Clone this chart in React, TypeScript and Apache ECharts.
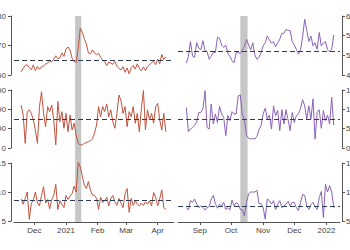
import { useEffect, useRef } from "react";
import * as echarts from "echarts";

const DAY = 86400000;
const stepDays = 2;
const leftStart = "2020-11-18";
const rightStart = "2021-08-19";
const leftRange = ["2020-11-11", "2021-04-17"];
const rightRange = ["2021-08-11", "2022-01-14"];
const leftEvent = ["2021-01-10", "2021-01-16"];
const rightEvent = ["2021-10-10", "2021-10-17"];

const leftTop = [61.1, 62.3, 63.2, 63.5, 62.5, 61.8, 63.4, 61.5, 62.9, 61.9, 62.8, 63.1, 63.7, 64, 64.8, 64.4, 65.4, 66.5, 65.5, 65.8, 67.5, 66.3, 68.8, 69.5, 68.5, 65.7, 64.6, 64.3, 69, 75.8, 74.5, 72.3, 70.5, 67.5, 67.2, 68.5, 67.5, 66.8, 67.4, 66, 65, 64.5, 63.2, 64.4, 64, 63.6, 64.6, 63, 62.2, 61.7, 62.8, 60.9, 62.4, 60.4, 62.5, 63.2, 62, 63.8, 62.3, 61.4, 62.7, 61.5, 62.9, 63.4, 64.2, 64.6, 63.5, 65.4, 63.8, 67, 65.2, 66.2];
const leftMid = [222, 171, 24, 188, 197, 179, 145, 93, 24, 214, 291, 179, 110, 214, 188, 222, 145, 16, 240, 136, 188, 102, 179, 84, 171, 93, 128, 67, 24, 16, 16, 24, 28, 33, 38, 47, 76, 119, 214, 162, 214, 188, 228, 162, 197, 136, 102, 179, 274, 245, 179, 214, 110, 188, 162, 214, 128, 179, 84, 205, 297, 93, 197, 145, 179, 128, 214, 231, 145, 93, 179, 84];
const leftBot = [8.8, 7.9, 8.9, 10, 5.3, 8, 8.7, 10, 8.1, 7.6, 9.4, 10.9, 8.1, 8.7, 7.1, 8.7, 9.4, 11.3, 7, 8.5, 7.9, 7.3, 9.4, 8.7, 9.3, 9.7, 11, 10, 15.2, 14.3, 12.8, 11.2, 10.6, 11.8, 10.3, 9.5, 9.4, 8.9, 7, 9.1, 8.2, 8.5, 9.1, 7.6, 8.9, 9.4, 8.3, 7.7, 8.9, 8.1, 7.3, 9.7, 10.6, 6.5, 8.9, 7.7, 8.5, 7.9, 7.6, 8.1, 7.7, 8.3, 7.9, 8.5, 7.6, 9.9, 9.1, 7.6, 8.8, 10.4, 7.3, 7];
const rightTop = [48, 49.7, 53.5, 49.8, 49.5, 53.2, 51.8, 51.4, 53.7, 51.2, 50.9, 49, 49.8, 50.7, 50.7, 54.6, 54.3, 52.6, 52, 52.6, 50.5, 49.7, 48.6, 48.1, 50.7, 50.7, 50.5, 51.4, 52.2, 54.1, 52.6, 51.4, 53.2, 50.1, 49, 49.5, 50.7, 52.4, 53.2, 54.9, 53.9, 53.1, 53.5, 52.2, 53.2, 54.1, 55.6, 55.6, 56.6, 56.3, 56.3, 53.5, 52.6, 51.5, 50.3, 51.4, 54.7, 59.2, 56.3, 53.5, 54.9, 52.4, 53.2, 51.5, 55.8, 52.4, 53.1, 53.5, 51.4, 50.9, 51.5, 55.2];
const rightMid = [105, 42, 49, 53, 58, 68, 92, 92, 101, 148, 53, 49, 114, 62, 88, 66, 108, 88, 79, 32, 84, 71, 94, 88, 88, 135, 137, 85, 75, 32, 25, 23, 25, 23, 30, 47, 58, 88, 103, 75, 85, 49, 109, 84, 97, 45, 99, 62, 99, 73, 45, 92, 66, 84, 88, 103, 125, 109, 75, 109, 75, 127, 23, 92, 99, 51, 97, 71, 85, 62, 131, 59];
const rightBot = [7.3, 6.9, 8.5, 8.2, 8.8, 7.9, 7.3, 7.6, 7.3, 6.9, 7.3, 7.5, 8.8, 9.4, 8, 7.2, 7.9, 7.6, 8.2, 7, 7.3, 6.9, 8.6, 7.6, 8.2, 7.9, 7, 6.9, 5.9, 8.2, 9.7, 10, 10, 10, 10.3, 8, 8, 7.3, 5.3, 8.8, 8.5, 7.9, 8.5, 7, 7.9, 8.5, 7.3, 7.6, 7.9, 8.4, 7.6, 8.2, 8.2, 7.3, 6.8, 8.2, 9.6, 9.4, 7.6, 7, 7.8, 8.2, 7.5, 7, 9, 10.1, 5.6, 11.3, 10, 11.1, 10, 7.3];

const means = [65, 150, 8.5, 51, 75, 7.6];
const yMins = [60, 0, 5, 45, 0, 5];
const yMaxs = [80, 300, 15, 60, 150, 15];
const yIntervals = [10, 100, 5, 5, 50, 5];
const monthNames = ["Jan", "Feb", "Mar", "Apr", "May", "Jun", "Jul", "Aug", "Sep", "Oct", "Nov", "Dec"];

const LEFT_COLOR = "#c0533d";
const RIGHT_COLOR = "#8a62b6";

function toTime(s: string, addDays = 0) {
  const [y, m, d] = s.split("-").map(Number);
  return new Date(y, m - 1, d + addDays).getTime();
}

function pairs(start: string, values: number[]) {
  return values.map((v, i) => [toTime(start, i * stepDays), v]);
}

export default function App() {
  const ref = useRef<HTMLDivElement>(null);
  useEffect(() => {
    document.body.style.margin = "0";
    const chart = echarts.init(ref.current!, undefined, { renderer: "svg" });
    const font = "Liberation Sans, Arial, sans-serif";
    const axisColor = "#555";
    const labelColor = "#444";
    const rowTops = [16, 90, 163];
    const rowHeights = [59, 58, 58];
    const grids: any[] = [];
    for (let c = 0; c < 2; c++) {
      for (let r = 0; r < 3; r++) {
        grids.push({
          left: c === 0 ? 14 : 178,
          width: c === 0 ? 160 : 162,
          top: rowTops[r],
          height: rowHeights[r],
          containLabel: false,
          outerBoundsMode: "none",
        });
      }
    }
    grids.push({ left: 14, width: 160, top: 16, height: 206, containLabel: false, outerBoundsMode: "none" });
    grids.push({ left: 178, width: 162, top: 16, height: 206, containLabel: false, outerBoundsMode: "none" });

    const fmt = (v: number) => {
      const d = new Date(v);
      return d.getMonth() === 0 ? String(d.getFullYear()) : monthNames[d.getMonth()];
    };

    const xAxes: any[] = [];
    for (let i = 0; i < 8; i++) {
      const isLeft = i < 3 || i === 6;
      const range = isLeft ? leftRange : rightRange;
      const isBottom = i === 2 || i === 5;
      xAxes.push({
        type: "time",
        gridIndex: i,
        min: toTime(range[0]),
        max: toTime(range[1]),
        show: isBottom,
        minInterval: 28 * DAY,
        maxInterval: 31 * DAY,
        offset: 1,
        axisLine: { show: true, lineStyle: { color: axisColor, width: 1 } },
        axisTick: { show: true, length: 3, lineStyle: { color: axisColor } },
        splitLine: { show: false },
        axisLabel: {
          formatter: fmt,
          fontSize: 8,
          fontFamily: font,
          color: labelColor,
          margin: 4,
          showMinLabel: false,
          showMaxLabel: false,
        },
      });
    }
    const yAxes: any[] = [];
    for (let i = 0; i < 6; i++) {
      const isLeft = i < 3;
      yAxes.push({
        type: "value",
        gridIndex: i,
        position: isLeft ? "left" : "right",
        offset: isLeft ? 3 : 2,
        min: yMins[i],
        max: yMaxs[i],
        interval: yIntervals[i],
        axisLine: { show: true, lineStyle: { color: axisColor, width: 1 } },
        axisTick: { show: true, length: 3, lineStyle: { color: axisColor } },
        splitLine: { show: false },
        axisLabel: { fontSize: 8, fontFamily: font, color: labelColor, margin: isLeft ? 5 : 4 },
      });
    }
    yAxes.push({ type: "value", gridIndex: 6, min: 0, max: 1, show: false });
    yAxes.push({ type: "value", gridIndex: 7, min: 0, max: 1, show: false });

    const seriesData = [
      pairs(leftStart, leftTop),
      pairs(leftStart, leftMid),
      pairs(leftStart, leftBot),
      pairs(rightStart, rightTop),
      pairs(rightStart, rightMid),
      pairs(rightStart, rightBot),
    ];

    const series: any[] = [];
    [leftEvent, rightEvent].forEach((ev, k) => {
      series.push({
        type: "line",
        xAxisIndex: 6 + k,
        yAxisIndex: 6 + k,
        data: [],
        z: 1,
        silent: true,
        markArea: {
          silent: true,
          itemStyle: { color: "#c6c6c6", opacity: 1 },
          data: [[{ xAxis: toTime(ev[0]) }, { xAxis: toTime(ev[1]) }]],
        },
      });
    });
    seriesData.forEach((d, i) => {
      series.push({
        type: "line",
        xAxisIndex: i,
        yAxisIndex: i,
        data: d,
        showSymbol: false,
        symbol: "none",
        z: 3,
        lineStyle: { color: i < 3 ? LEFT_COLOR : RIGHT_COLOR, width: 1 },
        itemStyle: { color: i < 3 ? LEFT_COLOR : RIGHT_COLOR },
        markLine: {
          silent: true,
          symbol: ["none", "none"],
          label: { show: false },
          lineStyle: { type: [5, 3], color: "#2d3b55", width: 1.2 },
          data: [{ yAxis: means[i] }],
        },
      });
    });

    chart.setOption({
      animation: false,
      backgroundColor: "#ffffff",
      grid: grids,
      xAxis: xAxes,
      yAxis: yAxes,
      series,
    });
    return () => chart.dispose();
  }, []);
  return (
    <div
      ref={ref}
      style={{ position: "absolute", left: 0, top: 0, width: 350, height: 250 }}
    />
  );
}
